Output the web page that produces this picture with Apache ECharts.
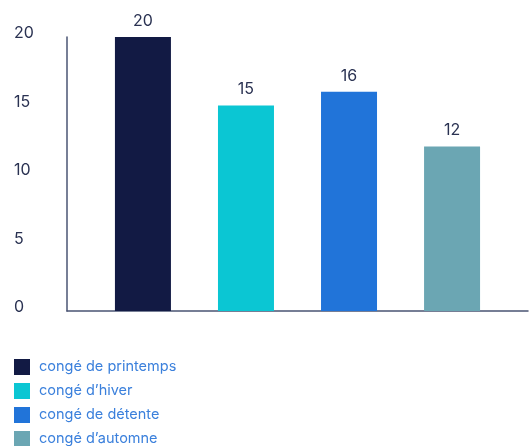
<!DOCTYPE html>
<html>
<head>
<meta charset="utf-8">
<script src="https://cdn.jsdelivr.net/npm/echarts@6/dist/echarts.min.js"></script>
<style>
  html, body { margin: 0; padding: 0; background: #fff; }
  #chart { width: 531px; height: 446px; }
</style>
</head>
<body>
<div id="chart"></div>
<script>
// data
var seriesNames = ['congé de printemps', 'congé d\u2019hiver', 'congé de détente', 'congé d\u2019automne'];
var seriesValues = [20, 15, 16, 12];
var barColors = ['#121a44', '#0bc6d3', '#2174d9', '#6ba6b3'];
var yTicks = { min: 0, max: 20, interval: 5 };

var font = 'Inter, "Noto Sans", sans-serif';
var axisColor = '#4a5473';

var chart = echarts.init(document.getElementById('chart'));

var series = seriesNames.map(function (name, i) {
    return {
        name: name,
        type: 'bar',
        data: [seriesValues[i]],
        barWidth: 56,
        barGap: '84%',
        itemStyle: { color: barColors[i] },
        label: {
            show: true,
            position: 'top',
            distance: 8,
            color: '#2a3252',
            fontFamily: font,
            fontSize: 16
        }
    };
});

chart.setOption({
    animation: false,
    color: barColors,
    textStyle: { fontFamily: font },
    legend: {
        orient: 'vertical',
        left: 14,
        top: 359,
        height: 120,
        padding: 0,
        itemWidth: 16,
        itemHeight: 16,
        itemGap: 8,
        icon: 'rect',
        data: seriesNames,
        textStyle: { color: '#3b80dc', fontSize: 14.5, fontFamily: font, padding: [0, 0, 0, 4] }
    },
    grid: { left: 67, right: 3, top: 37, bottom: 135, containLabel: false },
    xAxis: {
        type: 'category',
        data: [''],
        axisLine: { lineStyle: { color: axisColor, width: 1.5 } },
        axisTick: { show: false },
        axisLabel: { show: false }
    },
    yAxis: {
        type: 'value',
        min: yTicks.min,
        max: yTicks.max,
        interval: yTicks.interval,
        splitLine: { show: false },
        axisTick: { show: false },
        axisLine: { show: true, lineStyle: { color: axisColor, width: 1.5 } },
        axisLabel: {
            align: 'left',
            margin: 53,
            verticalAlign: 'bottom',
            lineHeight: 7,
            color: '#2a3252',
            fontSize: 16,
            fontFamily: font
        }
    },
    series: series
});
</script>
</body>
</html>
